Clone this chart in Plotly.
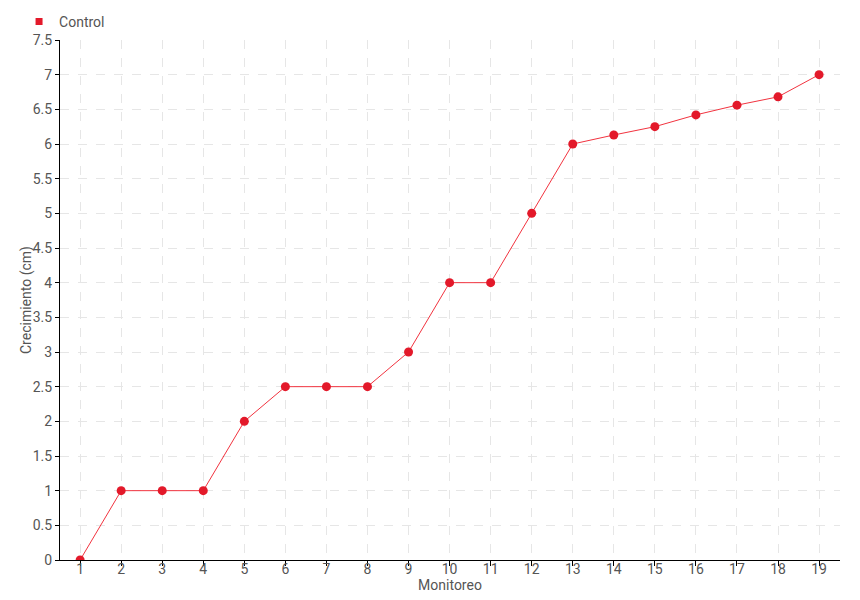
import plotly.graph_objects as go

monitoreo = [str(i) for i in range(1, 20)]
control = [0, 1, 1, 1, 2, 2.5, 2.5, 2.5, 3, 4, 4, 5, 6, 6.13, 6.25, 6.42, 6.56, 6.68, 7]
y_ticks = [0, 0.5, 1, 1.5, 2, 2.5, 3, 3.5, 4, 4.5, 5, 5.5, 6, 6.5, 7, 7.5]

FONT = "Roboto, sans-serif"
TXT = "#555555"

fig = go.Figure()
fig.add_trace(go.Scatter(
    x=monitoreo, y=control, mode="lines+markers", name="Control",
    line=dict(color="#f2333f", width=1),
    marker=dict(color="#e3192a", size=9, symbol="circle"),
    showlegend=False,
))
# legend-only entry (square swatch)
fig.add_trace(go.Scatter(
    x=[None], y=[None], mode="markers", name="Control",
    marker=dict(color="#e3192a", size=7, symbol="square"),
    showlegend=True,
))

fig.update_layout(
    width=860, height=600,
    margin=dict(l=52, r=28, t=32, b=48, autoexpand=False),
    paper_bgcolor="white", plot_bgcolor="white",
    font=dict(family=FONT, size=14, color=TXT),
    showlegend=True,
    legend=dict(x=-0.0525, y=1.004, xanchor="left", yanchor="bottom", orientation="h",
                font=dict(size=14, color=TXT), itemwidth=30, tracegroupgap=0,
                bgcolor="rgba(0,0,0,0)"),
    xaxis=dict(
        type="category", range=[-0.49, 18.51], automargin=False,
        showline=True, linecolor="black", linewidth=1,
        ticks="outside", ticklen=5, tickcolor="black",
        ticklabelstandoff=-9,
        showgrid=True, gridcolor="#e6e6e6", griddash="dash", gridwidth=1,
        title=dict(text="Monitoreo", standoff=0, font=dict(size=14)),
        tickfont=dict(size=14),
    ),
    yaxis=dict(
        range=[0, 7.5], tickvals=y_ticks, automargin=False,
        ticktext=[("%g" % v) for v in y_ticks],
        showline=True, linecolor="black", linewidth=1,
        ticks="outside", ticklen=4, tickcolor="black",
        showgrid=True, gridcolor="#e6e6e6", griddash="dash", gridwidth=1,
        zeroline=False,
        tickfont=dict(size=14),
    ),
    annotations=[dict(
        text="Crecimiento (cm)", textangle=-90,
        xref="paper", yref="paper", x=-0.0436, y=0.5,
        xanchor="center", yanchor="middle", showarrow=False,
        font=dict(size=14, color=TXT),
    )],
)

fig.write_html("out.html")
